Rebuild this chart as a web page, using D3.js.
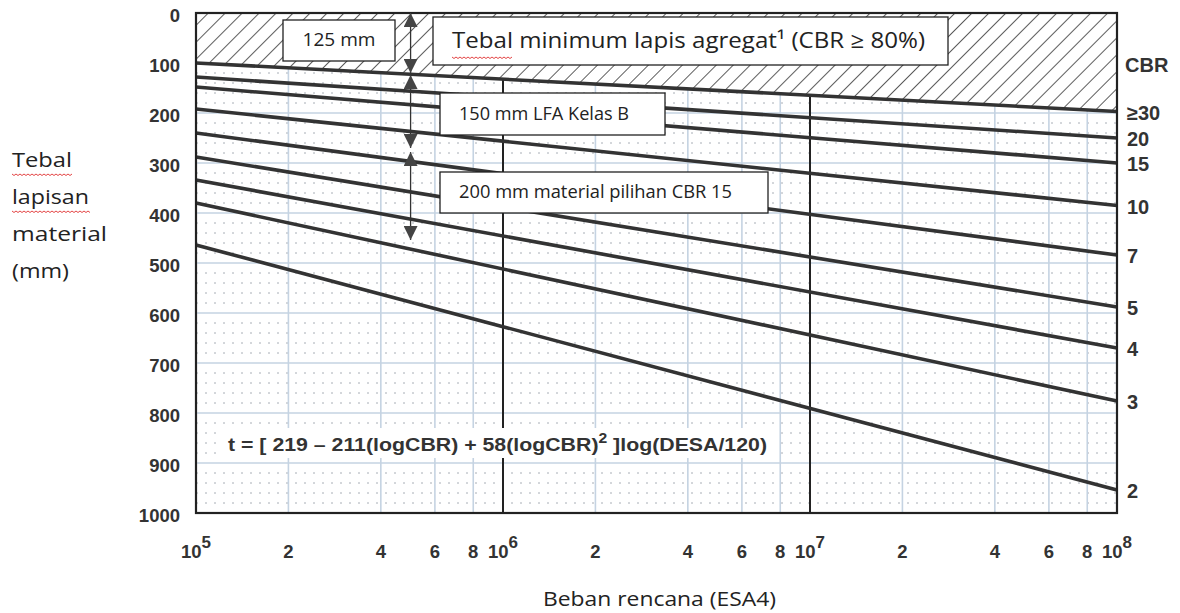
<!DOCTYPE html>
<html>
<head>
<meta charset="utf-8">
<script src="https://cdn.jsdelivr.net/npm/d3@7"></script>
<style>
  html, body { margin: 0; padding: 0; background: #fff; }
  svg { display: block; }
</style>
</head>
<body>
<div id="chart"></div>
<script>
// CBR curves: thickness (mm) read at DESA = 1e5 and DESA = 1e8
const cbrLabels = ["≥30", "20", "15", "10", "7", "5", "4", "3", "2"];
const desaEnds = [1e5, 1e8];
const thickStart = [100, 128, 148, 192, 240, 288, 334, 380, 464];
const thickEnd = [197, 250, 300, 385, 484, 588, 670, 776, 954];

// axes
const yTicks = [0, 100, 200, 300, 400, 500, 600, 700, 800, 900, 1000];
const decades = [5, 6, 7, 8];
const minorMults = [2, 4, 6, 8];

// thickness arrows (mm) at DESA 5e5
const arrowDesa = 5e5;
const arrowSegments = [[0, 120], [124, 270], [278, 454]];

const W = 1180, H = 613;
const margins = { left: 196, right: 63, top: 13, bottom: 100 };

const svg = d3.select("#chart").append("svg")
    .attr("width", W)
    .attr("height", H);

const x = d3.scaleLog()
    .domain([1e5, 1e8])
    .range([margins.left, W - margins.right]);

const y = d3.scaleLinear()
    .domain([0, 1000])
    .range([margins.top, H - margins.bottom]);

const x0 = x.range()[0], x1 = x.range()[1];
const y0 = y.range()[0], y1 = y.range()[1];

const defs = svg.append("defs");

// Hatch pattern for the minimum aggregate zone
defs.append("pattern")
    .attr("id", "hatch")
    .attr("patternUnits", "userSpaceOnUse")
    .attr("width", 12)
    .attr("height", 12)
    .attr("patternTransform", "rotate(45)")
    .append("line")
    .attr("x1", 0).attr("y1", 0)
    .attr("x2", 0).attr("y2", 12)
    .attr("stroke", "#333")
    .attr("stroke-width", 1.6);

// Arrow head marker
defs.append("marker")
    .attr("id", "head")
    .attr("viewBox", "0 0 10 10")
    .attr("refX", 10)
    .attr("refY", 5)
    .attr("markerUnits", "userSpaceOnUse")
    .attr("markerWidth", 15)
    .attr("markerHeight", 14)
    .attr("orient", "auto-start-reverse")
    .append("path")
    .attr("d", "M0,0 L10,5 L0,10 Z")
    .attr("fill", "#444");

// Grid
const grid = svg.append("g");

// fine dashed rows every 20 mm
grid.selectAll(".row")
    .data(d3.range(20, 1000, 20).filter(v => v % 100 !== 0))
    .enter()
    .append("line")
    .attr("x1", x0).attr("x2", x1)
    .attr("y1", d => y(d)).attr("y2", d => y(d))
    .attr("stroke", "#a8aeb6")
    .attr("stroke-width", 1)
    .attr("stroke-dasharray", "2,7");

grid.selectAll(".hline")
    .data(yTicks.slice(1, -1))
    .enter()
    .append("line")
    .attr("x1", x0).attr("x2", x1)
    .attr("y1", d => y(d)).attr("y2", d => y(d))
    .attr("stroke", "#c5d3e2")
    .attr("stroke-width", 1.4);

const minorValues = [];
decades.slice(0, -1).forEach(k => minorMults.forEach(m => minorValues.push(m * Math.pow(10, k))));

grid.selectAll(".vline")
    .data(minorValues)
    .enter()
    .append("line")
    .attr("x1", d => x(d)).attr("x2", d => x(d))
    .attr("y1", y0).attr("y2", y1)
    .attr("stroke", "#c5d3e2")
    .attr("stroke-width", 1.6);

// Bold decade lines
svg.selectAll(".decade")
    .data(decades.slice(1, -1).map(k => Math.pow(10, k)))
    .enter()
    .append("line")
    .attr("x1", d => x(d)).attr("x2", d => x(d))
    .attr("y1", y0).attr("y2", y1)
    .attr("stroke", "#222")
    .attr("stroke-width", 2);

// Hatched zone above the CBR >= 30 curve
const hatchPts = [
    [x(desaEnds[0]), y(0)],
    [x(desaEnds[1]), y(0)],
    [x(desaEnds[1]), y(thickEnd[0])],
    [x(desaEnds[0]), y(thickStart[0])]
];
svg.append("polygon")
    .attr("points", hatchPts.map(p => p.join(",")).join(" "))
    .attr("fill", "#fff");
svg.append("polygon")
    .attr("points", hatchPts.map(p => p.join(",")).join(" "))
    .attr("fill", "url(#hatch)");

// CBR curves
const curves = cbrLabels.map((label, i) => ({
    label,
    pts: [[desaEnds[0], thickStart[i]], [desaEnds[1], thickEnd[i]]]
}));

const line = d3.line()
    .x(d => x(d[0]))
    .y(d => y(d[1]));

svg.selectAll(".curve")
    .data(curves)
    .enter()
    .append("path")
    .attr("d", d => line(d.pts))
    .attr("fill", "none")
    .attr("stroke", "#333")
    .attr("stroke-width", 3.6);

// Plot frame
svg.append("rect")
    .attr("x", x0).attr("y", y0)
    .attr("width", x1 - x0).attr("height", y1 - y0)
    .attr("fill", "none")
    .attr("stroke", "#222")
    .attr("stroke-width", 2.2);

const boldFont = "Liberation Sans, Arial, sans-serif";
const textFont = "Open Sans, Noto Sans, sans-serif";

// Y tick labels
svg.selectAll(".ytick")
    .data(yTicks)
    .enter()
    .append("text")
    .attr("x", 180)
    .attr("y", d => y(d) + 4)
    .attr("text-anchor", "end")
    .attr("dominant-baseline", "middle")
    .attr("font-family", boldFont)
    .attr("font-weight", "bold")
    .attr("font-size", 18.5)
    .attr("fill", "#333")
    .text(d => d);

// X tick labels: minor multipliers
svg.selectAll(".xminor")
    .data(minorValues)
    .enter()
    .append("text")
    .attr("x", d => x(d))
    .attr("y", 558)
    .attr("text-anchor", "middle")
    .attr("font-family", boldFont)
    .attr("font-weight", "bold")
    .attr("font-size", 18.5)
    .attr("fill", "#333")
    .text(d => Math.round(d / Math.pow(10, Math.floor(Math.log10(d)))));

// X tick labels: decades with superscript
const decLabels = svg.selectAll(".xdec")
    .data(decades)
    .enter()
    .append("text")
    .attr("x", d => x(Math.pow(10, d)))
    .attr("y", 558)
    .attr("text-anchor", "middle")
    .attr("font-family", boldFont)
    .attr("font-weight", "bold")
    .attr("font-size", 18.5)
    .attr("fill", "#333");
decLabels.append("tspan").text("10");
decLabels.append("tspan")
    .attr("dy", -10)
    .attr("font-size", 17)
    .text(d => d);

// Right side CBR labels
svg.append("text")
    .attr("x", 1125)
    .attr("y", 72)
    .attr("font-family", boldFont)
    .attr("font-weight", "bold")
    .attr("font-size", 20)
    .attr("fill", "#333")
    .text("CBR");

svg.selectAll(".cbrlabel")
    .data(curves)
    .enter()
    .append("text")
    .attr("x", 1127)
    .attr("y", d => y(d.pts[1][1]) + 3)
    .attr("dominant-baseline", "middle")
    .attr("font-family", boldFont)
    .attr("font-weight", "bold")
    .attr("font-size", 20)
    .attr("fill", "#333")
    .text(d => d.label);

// Formula with white background
svg.append("rect")
    .attr("x", 220).attr("y", 428)
    .attr("width", 556).attr("height", 30)
    .attr("fill", "#fff");

const formula = svg.append("text")
    .attr("x", 228)
    .attr("y", 451)
    .attr("font-family", boldFont)
    .attr("font-weight", "bold")
    .attr("font-size", 19)
    .attr("fill", "#333")
    .attr("textLength", 539)
    .attr("lengthAdjust", "spacingAndGlyphs");
formula.append("tspan").text("t = [ 219 \u2013 211(logCBR) + 58(logCBR)");
formula.append("tspan").attr("dy", -8).attr("font-size", 14).text("2");
formula.append("tspan").attr("dy", 8).text(" ]log(DESA/120)");

// Annotation boxes
const boxes = [
    { text: "125 mm", x: 283, y: 20, w: 112, h: 41, size: 18, len: 73 },
    { text: "Tebal minimum lapis agregat\u00b9 (CBR \u2265 80%)", x: 433, y: 17, w: 515, h: 48, size: 22, len: 473 },
    { text: "150 mm LFA Kelas B", x: 440, y: 93, w: 225, h: 42, size: 18, len: 170 },
    { text: "200 mm material pilihan CBR 15", x: 440, y: 172, w: 328, h: 41, size: 18, len: 273 }
];

const boxG = svg.selectAll(".box")
    .data(boxes)
    .enter()
    .append("g");

boxG.append("rect")
    .attr("x", d => d.x).attr("y", d => d.y)
    .attr("width", d => d.w).attr("height", d => d.h)
    .attr("fill", "#fff")
    .attr("stroke", "#222")
    .attr("stroke-width", 1.3);

boxG.append("text")
    .attr("x", (d, i) => i === 0 ? d.x + (d.w - d.len) / 2 : d.x + 19)
    .attr("y", d => d.y + d.h / 2 + 1)
    .attr("dominant-baseline", "middle")
    .attr("font-family", textFont)
    .attr("font-size", d => d.size)
    .attr("fill", "#222")
    .attr("textLength", d => d.len)
    .attr("lengthAdjust", "spacingAndGlyphs")
    .text(d => d.text);

// Thickness arrows
svg.selectAll(".arrow")
    .data(arrowSegments)
    .enter()
    .append("line")
    .attr("x1", x(arrowDesa)).attr("x2", x(arrowDesa))
    .attr("y1", d => y(d[0])).attr("y2", d => y(d[1]))
    .attr("stroke", "#333")
    .attr("stroke-width", 1.3)
    .attr("marker-start", "url(#head)")
    .attr("marker-end", "url(#head)");

// Axis titles
const yTitle = [["Tebal", 60], ["lapisan", 77], ["material", 95], ["(mm)", 57]];
svg.selectAll(".ytitle")
    .data(yTitle)
    .enter()
    .append("text")
    .attr("x", 12)
    .attr("y", (d, i) => 167 + i * 37)
    .attr("font-family", textFont)
    .attr("font-size", 20)
    .attr("fill", "#222")
    .attr("textLength", d => d[1])
    .attr("lengthAdjust", "spacingAndGlyphs")
    .text(d => d[0]);

svg.append("text")
    .attr("x", 543)
    .attr("y", 606)
    .attr("font-family", textFont)
    .attr("font-size", 20)
    .attr("fill", "#222")
    .attr("textLength", 233)
    .attr("lengthAdjust", "spacingAndGlyphs")
    .text("Beban rencana (ESA4)");

// Spell-check squiggles under some words
function squiggle(xa, xb, yy) {
    let d = `M${xa},${yy}`;
    for (let xx = xa, k = 0; xx < xb; xx += 2, k++) {
        d += ` L${xx + 2},${yy + (k % 2 ? 0 : 1.5)}`;
    }
    return d;
}
[[12, 72, 174], [12, 90, 211], [452, 512, 57]].forEach(s => {
    svg.append("path")
        .attr("d", squiggle(s[0], s[1], s[2]))
        .attr("fill", "none")
        .attr("stroke", "#e03030")
        .attr("stroke-width", 0.9);
});
</script>
</body>
</html>
